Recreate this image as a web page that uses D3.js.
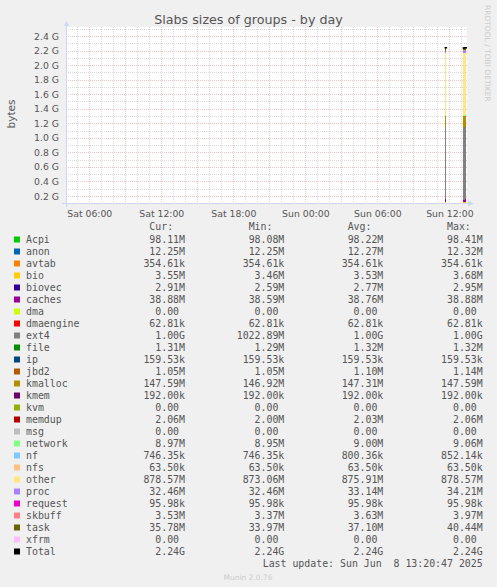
<!DOCTYPE html>
<html>
<head>
<meta charset="utf-8">
<script src="https://cdn.jsdelivr.net/npm/d3@7"></script>
<style>
  html, body { margin: 0; padding: 0; background: #f0f0f0; }
  svg { display: block; }
</style>
</head>
<body>
<div id="chart"></div>
<script>
// series, bottom of the stack first
const seriesNames = ["Acpi", "anon", "avtab", "bio", "biovec", "caches", "dma", "dmaengine",
  "ext4", "file", "ip", "jbd2", "kmalloc", "kmem", "kvm", "memdup", "msg", "network",
  "nf", "nfs", "other", "proc", "request", "skbuff", "task", "xfrm"];
const seriesColors = ["#00CC00", "#0066B3", "#FF8000", "#FFCC00", "#330099", "#990099", "#CCFF00", "#FF0000",
  "#808080", "#008F00", "#00487D", "#B35A00", "#B38F00", "#6B006B", "#8FB300", "#B30000", "#BEBEBE", "#80FF80",
  "#80C9FF", "#FFC080", "#FFE680", "#AA80FF", "#EE00CC", "#FF8080", "#666600", "#FFBFFF"];

// sample start times, hours since Sat 00:00 (only these samples have data)
const sampleTimes = [35 + 40 / 60, 37 + 10 / 60, 37 + 15 / 60, 37 + 20 / 60];
const sampleStep = 5 / 60;

// values in MiB, one per series, per sample
const sample1140 = [98.41, 12.32, 0.3463, 3.68, 2.95, 38.59, 0, 0.0613, 1022.89, 1.32, 0.1558, 1.14, 146.92,
  0.1875, 0, 2.00, 0, 9.06, 0.8322, 0.0620, 873.06, 34.21, 0.0937, 3.97, 40.44, 0];
const sample1310 = [98.22, 12.27, 0.3463, 3.46, 2.59, 38.80, 0, 0.0613, 1024.6, 1.29, 0.1558, 1.10, 147.31,
  0.1875, 0, 2.03, 0, 8.95, 0.80, 0.0620, 875.91, 33.14, 0.0937, 3.37, 33.97, 0];
const sample1315 = [98.08, 12.25, 0.3463, 3.50, 2.70, 38.76, 0, 0.0613, 1025.0, 1.32, 0.1558, 1.08, 147.40,
  0.1875, 0, 2.05, 0, 9.00, 0.7289, 0.0620, 876.5, 32.80, 0.0937, 3.62, 38.10, 0];
const sample1320 = [98.11, 12.25, 0.3463, 3.55, 2.91, 38.88, 0, 0.0613, 1025.3, 1.31, 0.1558, 1.05, 147.59,
  0.1875, 0, 2.06, 0, 8.97, 0.7289, 0.0620, 878.57, 32.46, 0.0937, 3.53, 35.78, 0];
const samples = [sample1140, sample1310, sample1315, sample1320];

// legend figures as printed
const curText = ["98.11M", "12.25M", "354.61k", "3.55M", "2.91M", "38.88M", "0.00", "62.81k", "1.00G", "1.31M",
  "159.53k", "1.05M", "147.59M", "192.00k", "0.00", "2.06M", "0.00", "8.97M", "746.35k", "63.50k", "878.57M",
  "32.46M", "95.98k", "3.53M", "35.78M", "0.00", "2.24G"];
const minText = ["98.08M", "12.25M", "354.61k", "3.46M", "2.59M", "38.59M", "0.00", "62.81k", "1022.89M", "1.29M",
  "159.53k", "1.05M", "146.92M", "192.00k", "0.00", "2.00M", "0.00", "8.95M", "746.35k", "63.50k", "873.06M",
  "32.46M", "95.98k", "3.37M", "33.97M", "0.00", "2.24G"];
const avgText = ["98.22M", "12.27M", "354.61k", "3.53M", "2.77M", "38.76M", "0.00", "62.81k", "1.00G", "1.32M",
  "159.53k", "1.10M", "147.31M", "192.00k", "0.00", "2.03M", "0.00", "9.00M", "800.36k", "63.50k", "875.91M",
  "33.14M", "95.98k", "3.63M", "37.10M", "0.00", "2.24G"];
const maxText = ["98.41M", "12.32M", "354.61k", "3.68M", "2.95M", "38.88M", "0.00", "62.81k", "1.00G", "1.32M",
  "159.53k", "1.14M", "147.59M", "192.00k", "0.00", "2.06M", "0.00", "9.06M", "852.14k", "63.50k", "878.57M",
  "34.21M", "95.98k", "3.97M", "40.44M", "0.00", "2.24G"];

const xTickHours = [6, 12, 18, 24, 30, 36];
const xTickLabels = ["Sat 06:00", "Sat 12:00", "Sat 18:00", "Sun 00:00", "Sun 06:00", "Sun 12:00"];
const yTickValues = [0.2, 0.4, 0.6, 0.8, 1.0, 1.2, 1.4, 1.6, 1.8, 2.0, 2.2, 2.4];
const yTickLabels = ["0.2 G", "0.4 G", "0.6 G", "0.8 G", "1.0 G", "1.2 G", "1.4 G", "1.6 G", "1.8 G", "2.0 G", "2.2 G", "2.4 G"];

const W = 497, H = 587;
const plot = { left: 66, right: 467, top: 27, bottom: 203 };
const fontColor = "#555";
const axisColor = "#CFD6F8";

const svg = d3.select("#chart").append("svg").attr("width", W).attr("height", H);
svg.append("rect").attr("width", W).attr("height", H).attr("fill", "#f0f0f0");

const x = d3.scaleLinear().domain([4.06, 37.47]).range([plot.left, plot.right]);
const y = d3.scaleLinear().domain([0.104 * 1024, 2.524 * 1024]).range([plot.bottom, plot.top]);

svg.append("rect")
  .attr("x", plot.left).attr("y", plot.top)
  .attr("width", plot.right - plot.left).attr("height", plot.bottom - plot.top)
  .attr("fill", "#fff");

svg.append("clipPath").attr("id", "clip").append("rect")
  .attr("x", plot.left).attr("y", plot.top)
  .attr("width", plot.right - plot.left).attr("height", plot.bottom - plot.top);

// grid
const grid = svg.append("g").attr("shape-rendering", "crispEdges");
const minorY = d3.range(2, 26).map((d) => d / 10);
const minorX = d3.range(5, 38);
grid.selectAll("line.hy").data(minorY).join("line")
  .attr("x1", plot.left).attr("x2", plot.right)
  .attr("y1", (d) => Math.round(y(d * 1024)) + 0.5).attr("y2", (d) => Math.round(y(d * 1024)) + 0.5)
  .attr("stroke", (d) => (Math.round(d * 10) % 2 === 0 ? "#efc4c4" : "#dadada"))
  .attr("stroke-dasharray", "1,1");
grid.selectAll("line.vx").data(minorX).join("line")
  .attr("y1", plot.top).attr("y2", plot.bottom)
  .attr("x1", (d) => Math.round(x(d)) + 0.5).attr("x2", (d) => Math.round(x(d)) + 0.5)
  .attr("stroke", (d) => (d % 3 === 0 ? "#efc4c4" : "#dadada"))
  .attr("stroke-dasharray", "1,1");

// stacked samples
const rows = samples.map((vals, i) => {
  const r = { t: sampleTimes[i] };
  seriesNames.forEach((n, j) => { r[n] = vals[j]; });
  return r;
});
const stacked = d3.stack().keys(seriesNames)(rows);

const bars = svg.append("g").attr("clip-path", "url(#clip)").attr("shape-rendering", "crispEdges");
bars.selectAll("g").data(stacked).join("g")
  .attr("fill", (d, i) => seriesColors[i])
  .selectAll("rect").data((d) => d).join("rect")
  .attr("x", (d) => x(d.data.t))
  .attr("width", (d) => x(d.data.t + sampleStep) - x(d.data.t))
  .attr("y", (d) => y(d[1]))
  .attr("height", (d) => y(d[0]) - y(d[1]));

// Total line
const totals = samples.map((vals) => d3.sum(vals));
const linePts = [];
sampleTimes.forEach((t, i) => {
  if (i > 0 && t - sampleTimes[i - 1] > sampleStep * 1.5) linePts.push(null);
  linePts.push([t, totals[i]], [t + sampleStep, totals[i]]);
});
svg.append("path")
  .attr("clip-path", "url(#clip)")
  .attr("d", d3.line().defined((d) => d).x((d) => x(d[0])).y((d) => y(d[1]))(linePts))
  .attr("fill", "none").attr("stroke", "#000").attr("stroke-width", 1.5)
  .attr("stroke-linecap", "square");

// axes
const yAxis = svg.append("g").attr("transform", `translate(${plot.left},0)`)
  .call(d3.axisLeft(y).tickValues(yTickValues.map((v) => v * 1024))
    .tickFormat((d, i) => yTickLabels[i]).tickSize(0).tickPadding(7));
yAxis.select(".domain").remove();
yAxis.selectAll("text").attr("font-family", "DejaVu Sans").attr("font-size", 9.3).attr("fill", fontColor);

const xAxis = svg.append("g").attr("transform", `translate(0,${plot.bottom})`)
  .call(d3.axisBottom(x).tickValues(xTickHours)
    .tickFormat((d, i) => xTickLabels[i]).tickSize(0).tickPadding(7));
xAxis.select(".domain").remove();
xAxis.selectAll("text").attr("font-family", "DejaVu Sans").attr("font-size", 9.3).attr("fill", fontColor);

// axis lines with arrows
svg.append("line").attr("x1", 62).attr("x2", 469).attr("y1", plot.bottom + 0.5).attr("y2", plot.bottom + 0.5)
  .attr("stroke", axisColor);
svg.append("path").attr("d", `M468,${plot.bottom - 2.5}L473.5,${plot.bottom + 0.5}L468,${plot.bottom + 3.5}Z`)
  .attr("fill", axisColor);
svg.append("line").attr("x1", plot.left + 0.5).attr("x2", plot.left + 0.5).attr("y1", plot.bottom + 4).attr("y2", 25)
  .attr("stroke", axisColor);
svg.append("path").attr("d", `M${plot.left - 2},26L${plot.left + 0.5},21L${plot.left + 3},26Z`)
  .attr("fill", axisColor);

// titles
svg.append("text").attr("x", 248.5).attr("y", 23.5).attr("text-anchor", "middle")
  .attr("font-family", "DejaVu Sans").attr("font-size", 12.7).attr("fill", fontColor)
  .text("Slabs sizes of groups - by day");
svg.append("text").attr("transform", "translate(14.5,114) rotate(-90)").attr("text-anchor", "middle")
  .attr("font-family", "DejaVu Sans").attr("font-size", 10.5).attr("fill", fontColor)
  .text("bytes");
svg.append("text").attr("transform", "translate(484.5,5) rotate(90)")
  .attr("font-family", "DejaVu Sans").attr("font-size", 7.5).attr("fill", "#cccccc")
  .text("RRDTOOL / TOBI OETIKER");

// legend
const mono = "DejaVu Sans Mono";
const monoSize = 9.9;
const colRight = [185, 284.3, 383.3, 482.7];
const headers = ["Cur:", "Min:", "Avg:", "Max:"];
const legend = svg.append("g").attr("font-family", mono).attr("font-size", monoSize).attr("fill", fontColor)
  .style("white-space", "pre");
legend.selectAll("text.hdr").data(headers).join("text")
  .attr("x", (d, i) => colRight[i]).attr("y", 230).attr("text-anchor", "end")
  .text((d) => d + "\u00a0\u00a0");

const legendNames = seriesNames.concat(["Total"]);
const legendColors = seriesColors.concat(["#000000"]);
const rowY = (i) => 243 + i * 12;
legend.selectAll("rect").data(legendNames).join("rect")
  .attr("x", 14).attr("y", (d, i) => rowY(i) - 6.5).attr("width", 6).attr("height", 6)
  .attr("fill", (d, i) => legendColors[i]);
legend.selectAll("text.name").data(legendNames).join("text")
  .attr("x", 26).attr("y", (d, i) => rowY(i)).text((d) => d);

[curText, minText, avgText, maxText].forEach((col, c) => {
  legend.append("g").selectAll("text").data(col).join("text")
    .attr("x", colRight[c]).attr("y", (d, i) => rowY(i)).attr("text-anchor", "end")
    .text((d) => (/[kMG]$/.test(d) ? d : d + "\u00a0"));
});

legend.append("text").attr("x", 482.7).attr("y", 567).attr("text-anchor", "end")
  .text("Last update: Sun Jun\u00a0\u00a08 13:20:47 2025");

svg.append("text").attr("x", 248).attr("y", 579.5).attr("text-anchor", "middle")
  .attr("font-family", "DejaVu Sans").attr("font-size", 7.5).attr("fill", "#cccccc")
  .text("Munin 2.0.76");
</script>
</body>
</html>
